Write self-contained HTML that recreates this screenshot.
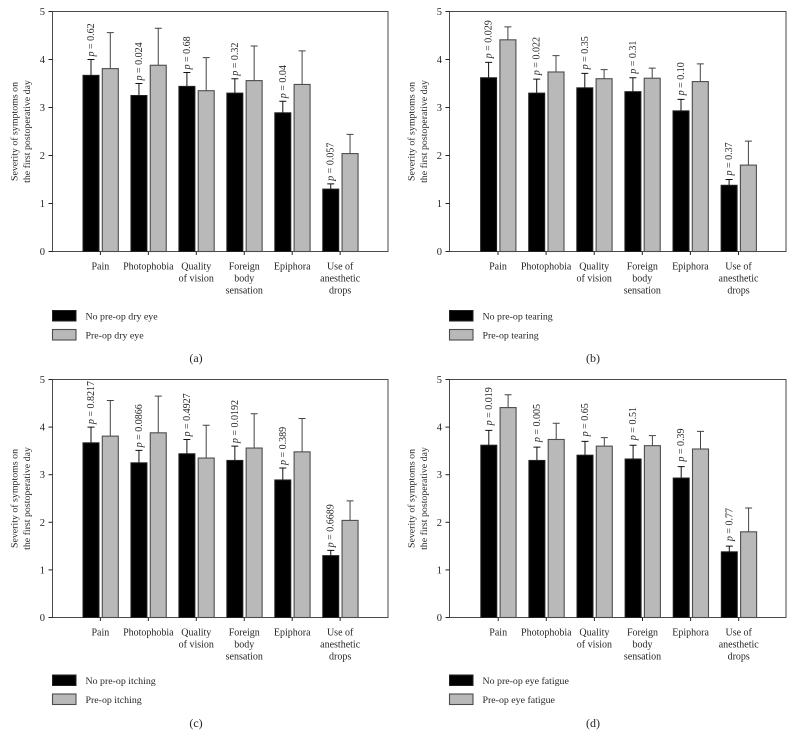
<!DOCTYPE html>
<html>
<head>
<meta charset="utf-8">
<style>
html,body{margin:0;padding:0;background:#fff;}
svg{display:block;}
text{font-family:"Liberation Serif",serif;fill:#262626;}
</style>
</head>
<body>
<svg id="chart" xmlns="http://www.w3.org/2000/svg" width="794" height="749" viewBox="0 0 794 749"></svg>
<script>
const categories = [["Pain"],["Photophobia"],["Quality","of vision"],["Foreign","body","sensation"],["Epiphora"],["Use of","anesthetic","drops"]];
const yTicks = [0,1,2,3,4,5];
const yTitleLines = ["Severity of symptoms on","the first postoperative day"];

const blackA = [3.67,3.25,3.44,3.30,2.89,1.30];
const blackErrA = [4.00,3.50,3.73,3.60,3.13,1.41];
const grayA = [3.81,3.88,3.35,3.56,3.48,2.04];
const grayErrA = [4.56,4.65,4.04,4.28,4.18,2.44];
const pA = ["0.62","0.024","0.68","0.32","0.04","0.057"];

const blackB = [3.62,3.30,3.41,3.33,2.93,1.38];
const blackErrB = [3.94,3.59,3.71,3.62,3.17,1.50];
const grayB = [4.41,3.74,3.60,3.61,3.54,1.80];
const grayErrB = [4.68,4.08,3.79,3.82,3.91,2.30];
const pB = ["0.029","0.022","0.35","0.31","0.10","0.37"];

const blackC = [3.67,3.25,3.44,3.30,2.89,1.30];
const blackErrC = [4.00,3.51,3.74,3.60,3.14,1.41];
const grayC = [3.81,3.88,3.35,3.56,3.48,2.04];
const grayErrC = [4.56,4.65,4.04,4.28,4.18,2.45];
const pC = ["0.8217","0.0866","0.4927","0.0192","0.389","0.6689"];

const blackD = [3.62,3.30,3.41,3.33,2.93,1.38];
const blackErrD = [3.93,3.58,3.70,3.62,3.17,1.50];
const grayD = [4.41,3.74,3.60,3.61,3.54,1.80];
const grayErrD = [4.68,4.08,3.78,3.82,3.91,2.30];
const pD = ["0.019","0.005","0.65","0.51","0.39","0.77"];

const NS = "http://www.w3.org/2000/svg";
const root = document.getElementById("chart");

function make(parent, tag, attrs, txt) {
  const el = document.createElementNS(NS, tag);
  for (const k in attrs) el.setAttribute(k, attrs[k]);
  if (txt !== undefined) el.textContent = txt;
  parent.appendChild(el);
  return el;
}

function drawPanel(cfg) {
  const g = make(root, "g", {});
  
  

  const yScale = v => cfg.bottom - (v / 5) * (cfg.bottom - cfg.top);
  const xScale = i => cfg.firstX + i * cfg.step;
  const barW = 16;
  const BLACK_OFF = -9.4, GRAY_OFF = 9.9;

  // frame
  const frame = make(g, "rect", {x:cfg.left,y:cfg.top,width:cfg.right-cfg.left,height:cfg.bottom-cfg.top,fill:"none",stroke:"#4a4a4a","stroke-width":1});
  
  

  // y ticks
  yTicks.forEach(t => {
    const y = yScale(t);
    const tick = make(g, "line", {x1:cfg.left-4,x2:cfg.left,y1:y,y2:y,stroke:"#222","stroke-width":1});
    
    
    const label = make(g, "text", {x:cfg.left-7.5,y:y+3.5,"text-anchor":"end","font-size":10.5}, String(t));
    
    
  });

  // y title
  yTitleLines.forEach((line, i) => {
    const x = cfg.left - 35 + i * 12.7, y = (cfg.top + cfg.bottom) / 2;
    const t = make(g, "text", {x:x,y:y,"text-anchor":"middle","font-size":9.9,transform:"rotate(-90 "+x+" "+y+")"}, line);
    
    
  });

  categories.forEach((cat, i) => {
    const cx = xScale(i);
    const xb = cx + BLACK_OFF, xg = cx + GRAY_OFF;

    // error bars first, so bars overlap their lower end
    const e1 = make(g, "path", {d:"M"+xb+" "+yScale(cfg.blackErr[i])+"V"+yScale(cfg.black[i])+"M"+(xb-3.5)+" "+yScale(cfg.blackErr[i])+"H"+(xb+3.5),stroke:"#111",fill:"none","stroke-width":1});
    
    
    const e2 = make(g, "path", {d:"M"+xg+" "+yScale(cfg.grayErr[i])+"V"+yScale(cfg.gray[i])+"M"+(xg-3.5)+" "+yScale(cfg.grayErr[i])+"H"+(xg+3.5),stroke:"#444",fill:"none","stroke-width":1});
    
    

    const b1 = make(g, "rect", {x:xb-barW/2,y:yScale(cfg.black[i]),width:barW,height:cfg.bottom-yScale(cfg.black[i]),fill:"#000",stroke:"#222","stroke-width":1});
    
    
    const b2 = make(g, "rect", {x:xg-barW/2,y:yScale(cfg.gray[i]),width:barW,height:cfg.bottom-yScale(cfg.gray[i]),fill:"#b9b9b9",stroke:"#4d4d4d","stroke-width":1.1});
    
    

    // p label
    const px = xb + 3, py = yScale(cfg.blackErr[i]) - cfg.pGap;
    const p = make(g, "text", {x:px,y:py,"font-size":10,transform:"rotate(-90 "+px+" "+py+")"});
    make(p, "tspan", {"font-style":"italic"}, "p");
    make(p, "tspan", {}, " = " + cfg.p[i]);
    
    

    // x tick and label
    const xt = make(g, "line", {x1:cx,x2:cx,y1:cfg.bottom,y2:cfg.bottom+3.5,stroke:"#222","stroke-width":1});
    
    
    cat.forEach((line, j) => {
      const t = make(g, "text", {x:cx,y:cfg.bottom+18+j*12,"text-anchor":"middle","font-size":10}, line);
      
      
    });
  });

  // legend
  const l1 = make(g, "rect", {x:cfg.left,y:cfg.legendY,width:23.5,height:10.5,fill:"#000",stroke:"#222","stroke-width":1});
  
  
  const t1 = make(g, "text", {x:cfg.left+33,y:cfg.legendY+8.8,"font-size":9.9}, cfg.legend[0]);
  
  
  const l2 = make(g, "rect", {x:cfg.left,y:cfg.legendY+19,width:23.5,height:10.5,fill:"#b9b9b9",stroke:"#4d4d4d","stroke-width":1.1});
  
  
  const t2 = make(g, "text", {x:cfg.left+33,y:cfg.legendY+27.8,"font-size":9.9}, cfg.legend[1]);
  
  

  const cap = make(g, "text", {x:cfg.capX,y:cfg.capY,"text-anchor":"middle","font-size":12}, "(" + cfg.id + ")");
  
  
}

drawPanel({id:"a",left:52.5,right:388,top:11.5,bottom:251.5,firstX:100.4,step:47.95,black:blackA,blackErr:blackErrA,gray:grayA,grayErr:grayErrA,p:pA,pGap:3,legendY:310.5,legend:["No pre-op dry eye","Pre-op dry eye"],capX:196,capY:362});
drawPanel({id:"b",left:449.5,right:786,top:11.5,bottom:251.5,firstX:498,step:48.1,black:blackB,blackErr:blackErrB,gray:grayB,grayErr:grayErrB,p:pB,pGap:4,legendY:310.5,legend:["No pre-op tearing","Pre-op tearing"],capX:593,capY:362});
drawPanel({id:"c",left:52.5,right:388,top:379.5,bottom:617.5,firstX:100.4,step:47.95,black:blackC,blackErr:blackErrC,gray:grayC,grayErr:grayErrC,p:pC,pGap:3,legendY:675,legend:["No pre-op itching","Pre-op itching"],capX:196,capY:727});
drawPanel({id:"d",left:449.5,right:786,top:379.5,bottom:617.5,firstX:498.2,step:48.1,black:blackD,blackErr:blackErrD,gray:grayD,grayErr:grayErrD,p:pD,pGap:5,legendY:675,legend:["No pre-op eye fatigue","Pre-op eye fatigue"],capX:593,capY:727});
</script>
</body>
</html>
